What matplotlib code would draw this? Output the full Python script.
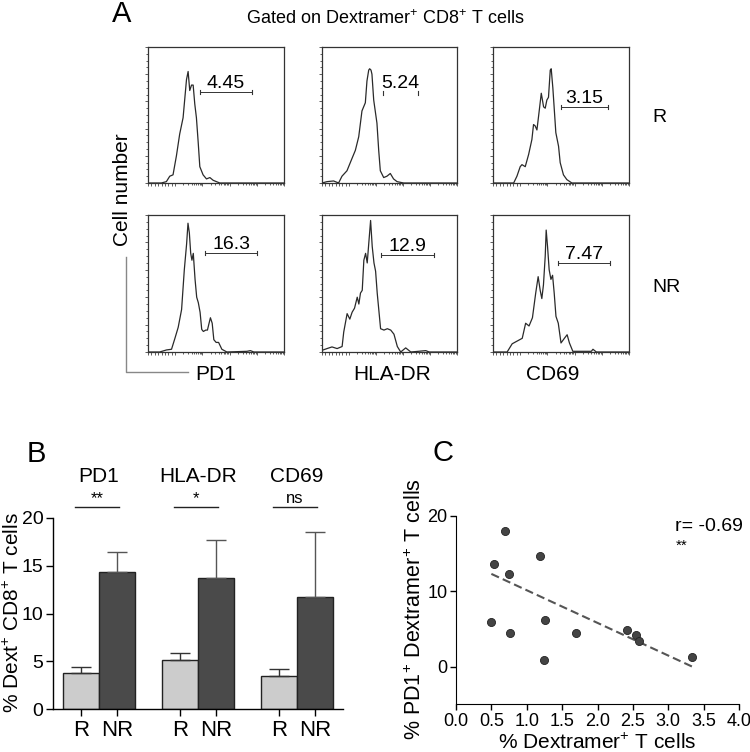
"""
Dextramer+ CD8+ T cell activation markers: flow histograms (A),
marker summary bars (B) and PD1 vs dextramer correlation (C).
"""

import numpy as np
import matplotlib
matplotlib.use("Agg")
import matplotlib.pyplot as plt
from matplotlib.lines import Line2D

plt.rcParams["font.family"] = ["Liberation Sans", "DejaVu Sans"]
plt.rcParams["mathtext.fontset"] = "custom"
plt.rcParams["mathtext.rm"] = "Liberation Sans"
plt.rcParams["mathtext.it"] = "Liberation Sans:italic"
plt.rcParams["mathtext.bf"] = "Liberation Sans:bold"

W, H = 750, 752

# ---------------------------------------------------------
# Data
# ---------------------------------------------------------

# A: histogram traces (fluorescence 0-100, normalised count 0-1)
pd1_r_x = [0, 9.8, 13.5, 16, 18.4, 20.9, 23.3, 25.8, 28.3, 29.5, 30.7, 32, 33.2,
           34.4, 35.6, 36.9, 38.1, 40.5, 43, 45.5, 47.9, 52.8, 100]
pd1_r_y = [0, 0, 0.01, 0.05, 0.06, 0.2, 0.36, 0.48, 0.76, 0.82, 0.68, 0.72, 0.72,
           0.58, 0.48, 0.3, 0.12, 0.06, 0.03, 0.04, 0.02, 0, 0]

hla_r_x = [0, 3.7, 8.6, 12.3, 14.8, 18.5, 22.2, 24.7, 27.2, 29.6, 32.1, 33.3, 34.6,
           35.3, 36.3, 37, 38.3, 40.7, 42, 43.2, 45.7, 48.1, 50.6, 53, 55.6, 60.5, 100]
hla_r_y = [0, 0.01, 0.015, 0, 0.05, 0.09, 0.18, 0.24, 0.34, 0.53, 0.59, 0.75, 0.83,
           0.84, 0.83, 0.8, 0.61, 0.44, 0.24, 0.09, 0.04, 0.05, 0.07, 0.03, 0.01, 0, 0]

cd69_r_x = [0, 15.2, 17.6, 20, 21.3, 23.7, 26.2, 28.6, 29.8, 31, 32.3, 33.5, 35.5,
            37.2, 38.4, 39.6, 40.8, 42.1, 42.8, 44, 45, 46.2, 48.2, 49.4, 51.8, 54.3, 58, 100]
cd69_r_y = [0, 0, 0.05, 0.12, 0.135, 0.12, 0.21, 0.32, 0.43, 0.42, 0.39, 0.49, 0.66,
            0.56, 0.55, 0.61, 0.63, 0.83, 0.84, 0.7, 0.55, 0.37, 0.27, 0.15, 0.06, 0.025, 0, 0]

pd1_nr_x = [0, 8.6, 13.6, 17.3, 19.8, 22.2, 24.7, 26.7, 28.4, 29.4, 30.4, 31.4, 32.3,
            33.3, 34.6, 35.8, 37, 38.3, 39.5, 40.7, 42.5, 43.7, 44.9, 45.9, 47.2, 48.4,
            50.1, 51.9, 54.3, 58, 72.8, 75.3, 77.8, 100]
pd1_nr_y = [0, 0, 0.015, 0.02, 0.1, 0.18, 0.31, 0.6, 0.79, 0.94, 0.87, 0.72, 0.67,
            0.72, 0.53, 0.4, 0.36, 0.29, 0.165, 0.15, 0.16, 0.16, 0.21, 0.25, 0.21, 0.09,
            0.07, 0.07, 0.02, 0, 0.005, 0.01, 0, 0]

hla_nr_x = [0, 3.7, 7.4, 11.2, 14.9, 16.1, 18.6, 20.6, 22.3, 24.1, 26.1, 27.3, 28.5,
            29.8, 31, 32.3, 33.5, 34.7, 36, 37.2, 38.5, 39.7, 40.9, 43.4, 45.9, 48.4,
            50.9, 53.3, 55.8, 58.3, 62, 65.8, 76.9, 79.4, 100]
hla_nr_y = [0.012, 0.025, 0.037, 0.025, 0.04, 0.146, 0.28, 0.24, 0.29, 0.32, 0.4, 0.35,
            0.43, 0.45, 0.67, 0.72, 0.65, 0.8, 0.96, 0.77, 0.65, 0.59, 0.43, 0.17, 0.16,
            0.17, 0.16, 0.13, 0.04, 0, 0.03, 0, 0.01, 0, 0]

cd69_nr_x = [0, 10.4, 14.1, 17.8, 21.5, 24, 26.5, 29, 31.4, 33.2, 34.7, 35.9, 37.1,
             38.4, 39.1, 40.1, 41.3, 42.6, 43.8, 45, 46.3, 48, 50, 52.5, 54.5, 56.2,
             58.7, 72.3, 73.5, 76, 100]
cd69_nr_y = [0, 0, 0.06, 0.08, 0.1, 0.21, 0.19, 0.25, 0.43, 0.55, 0.45, 0.39, 0.49,
             0.7, 0.89, 0.77, 0.6, 0.53, 0.56, 0.43, 0.26, 0.21, 0.066, 0.1, 0.126, 0.066,
             0.005, 0.005, 0.02, 0, 0]

# gates (order: R PD1, R HLA-DR, R CD69, NR PD1, NR HLA-DR, NR CD69)
gate_labels = ["4.45", "5.24", "3.15", "16.3", "12.9", "7.47"]
gate_lo = [38, 45.2, 49.9, 42, 43.4, 47.5]
gate_hi = [76.7, 71.1, 84.8, 80.2, 83.1, 85.9]
gate_level = [0.67, 0.665, 0.56, 0.72, 0.71, 0.65]

markers = ["PD1", "HLA-DR", "CD69"]
groups = ["R", "NR"]

# B: mean % and upper SEM
r_mean = [3.77, 5.13, 3.49]
r_err = [0.59, 0.70, 0.70]
nr_mean = [14.35, 13.68, 11.76]
nr_err = [2.09, 4.02, 6.77]
signif = ["**", "*", "ns"]

# C: % dextramer+ vs % PD1+ dextramer+
dext_pct = [0.69, 1.19, 0.54, 0.75, 0.50, 1.26, 0.76, 1.70, 2.41, 2.54, 2.59, 1.24, 3.34]
pd1_pct = [17.97, 14.70, 13.60, 12.32, 5.96, 6.18, 4.42, 4.50, 4.81, 4.15, 3.44, 0.84, 1.28]
fit_slope = -4.33
fit_intercept = 14.45
r_text = "r= -0.69"


# ---------------------------------------------------------
# Helpers
# ---------------------------------------------------------

def box(x0, y0, x1, y1):
    # pixel box -> figure fraction rect
    return [x0 / W, 1 - y1 / H, (x1 - x0) / W, (y1 - y0) / H]


def fx(x):
    return x / W


def fy(y):
    return 1 - y / H


# ---------------------------------------------------------
# Panel A
# ---------------------------------------------------------

def draw_histograms(fig):

    curves = [(pd1_r_x, pd1_r_y), (hla_r_x, hla_r_y), (cd69_r_x, cd69_r_y),
              (pd1_nr_x, pd1_nr_y), (hla_nr_x, hla_nr_y), (cd69_nr_x, cd69_nr_y)]

    cols = [(148, 284), (322, 457), (493, 629)]
    rows = [(47, 183), (215, 352)]

    # biexponential style tick positions
    lin_ticks = np.arange(0, 20, 2.5)
    dec_ticks = np.arange(20, 101, 20)
    minor = []
    for d in dec_ticks[:-1]:
        minor.extend(d + np.log10(np.arange(2, 10)) * 20)

    for i, (xs, ys) in enumerate(curves):

        r, c = divmod(i, 3)
        ax = fig.add_axes(box(cols[c][0], rows[r][0], cols[c][1], rows[r][1]))

        ax.plot(xs, ys, color="#2a2a2a", lw=0.9)

        lo, hi, lv = gate_lo[i], gate_hi[i], gate_level[i]
        if i != 1:
            ax.plot([lo, hi], [lv, lv], color="#333333", lw=0.7)
        ax.plot([lo, lo], [lv - 0.015, lv + 0.015], color="#333333", lw=0.8)
        ax.plot([hi, hi], [lv - 0.015, lv + 0.015], color="#333333", lw=0.8)
        ax.text((lo + hi) / 2, lv + 0.03, gate_labels[i], ha="center",
                va="baseline", fontsize=14)

        ax.set_xlim(0, 100)
        ax.set_ylim(0, 1)

        ax.set_xticks(np.concatenate([lin_ticks, dec_ticks]))
        ax.set_xticks(minor, minor=True)
        ax.set_yticks(np.arange(0, 1.01, 0.2))
        ax.set_yticks(np.arange(0, 1.01, 0.05), minor=True)
        ax.tick_params(which="both", direction="out", length=2.5, width=0.6,
                       color="#444444", labelleft=False, labelbottom=False)
        ax.tick_params(which="minor", length=1.5)

        for s in ax.spines.values():
            s.set_linewidth(0.9)
            s.set_color("#333333")

    fig.text(fx(122), fy(14), "A", fontsize=21, ha="center", va="center")
    fig.text(fx(385), fy(19), "Gated on Dextramer$^{+}$ CD8$^{+}$ T cells",
             fontsize=13, ha="center", va="center")

    fig.text(fx(652), fy(117), groups[0], fontsize=14, ha="left", va="center")
    fig.text(fx(652), fy(287), groups[1], fontsize=14, ha="left", va="center")

    fig.text(fx(123), fy(190), "Cell number", fontsize=15, rotation=90,
             ha="center", va="center")

    fig.add_artist(Line2D([fx(126), fx(126), fx(188)], [fy(257), fy(372), fy(372)],
                          color="#888888", lw=1))

    for x, m in zip([216, 392, 553], markers):
        fig.text(fx(x), fy(374), m, fontsize=15, ha="center", va="center")


# ---------------------------------------------------------
# Panel B
# ---------------------------------------------------------

def draw_bars(fig):

    ax = fig.add_axes(box(53, 518, 343, 709))

    centers = np.arange(1, len(markers) + 1)
    w = 0.364
    xr = centers - w / 2
    xn = centers + w / 2

    ax.bar(xr, r_mean, w, color="#cccccc", edgecolor="#222222", lw=1)
    ax.bar(xn, nr_mean, w, color="#4a4a4a", edgecolor="#222222", lw=1)

    ax.errorbar(xr, r_mean, yerr=[np.zeros(3), r_err], fmt="none",
                ecolor="#333333", elinewidth=1, capsize=7, capthick=1)
    ax.errorbar(xn, nr_mean, yerr=[np.zeros(3), nr_err], fmt="none",
                ecolor="#555555", elinewidth=1, capsize=7, capthick=1)

    for c, m, s in zip(centers, markers, signif):
        ax.plot([c - 0.245, c + 0.2], [21.1, 21.1], color="#222222", lw=1,
                clip_on=False)
        ax.text(c - 0.02, 21.25, s, ha="center", va="bottom", fontsize=12)
        ax.text(c, 24.3, m, ha="center", va="center", fontsize=15)

    ax.set_xlim(0.535, 3.465)
    ax.set_ylim(0, 20)
    ax.set_yticks([0, 5, 10, 15, 20])
    ax.set_xticks(np.concatenate([xr, xn]))
    ax.set_xticklabels(groups[:1] * 3 + groups[1:] * 3)
    ax.tick_params(axis="y", labelsize=14, length=5, width=1, pad=2)
    ax.tick_params(axis="x", labelsize=16, length=5, width=1, pad=3)

    for s in ["top", "right"]:
        ax.spines[s].set_visible(False)
    for s in ["left", "bottom"]:
        ax.spines[s].set_linewidth(1)

    fig.text(fx(13), fy(613), "% Dext$^{+}$ CD8$^{+}$ T cells", rotation=90,
             fontsize=15, ha="center", va="center")
    fig.text(fx(36), fy(454), "B", fontsize=21, ha="center", va="center")


# ---------------------------------------------------------
# Panel C
# ---------------------------------------------------------

def draw_scatter(fig):

    ax = fig.add_axes(box(456, 515.7, 739, 704.3))

    ax.scatter(dext_pct, pd1_pct, s=34, color="#444444", edgecolor="#222222",
               lw=0.6, zorder=3)

    xl = np.array([min(dext_pct), max(dext_pct)])
    ax.plot(xl, fit_intercept + fit_slope * xl, color="#555555", lw=1.5,
            dashes=(4, 2), zorder=2)

    ax.text(3.1, 18.6, r_text, fontsize=14, ha="left", va="center")
    ax.text(3.1, 16.0, "**", fontsize=11, ha="left", va="center")

    ax.set_xlim(0, 4)
    ax.set_ylim(-5, 20)
    ax.set_xticks(np.arange(0, 4.01, 0.5))
    ax.set_xticklabels([f"{v:.1f}" for v in np.arange(0, 4.01, 0.5)])
    ax.set_yticks([0, 10, 20])
    ax.tick_params(labelsize=13, length=4, width=1, pad=2)

    for s in ["top", "right"]:
        ax.spines[s].set_visible(False)

    fig.text(fx(415), fy(609), "% PD1$^{+}$ Dextramer$^{+}$ T cells", rotation=90,
             fontsize=15.5, ha="center", va="center")
    fig.text(fx(597), fy(743), "% Dextramer$^{+}$ T cells", fontsize=15,
             ha="center", va="center")
    fig.text(fx(443), fy(453), "C", fontsize=21, ha="center", va="center")


# ---------------------------------------------------------
# Main
# ---------------------------------------------------------

def main():

    fig = plt.figure(figsize=(7.5, 7.52), dpi=100)

    draw_histograms(fig)
    draw_bars(fig)
    draw_scatter(fig)

    fig.savefig("out.png", dpi=100)


if __name__ == "__main__":
    main()
